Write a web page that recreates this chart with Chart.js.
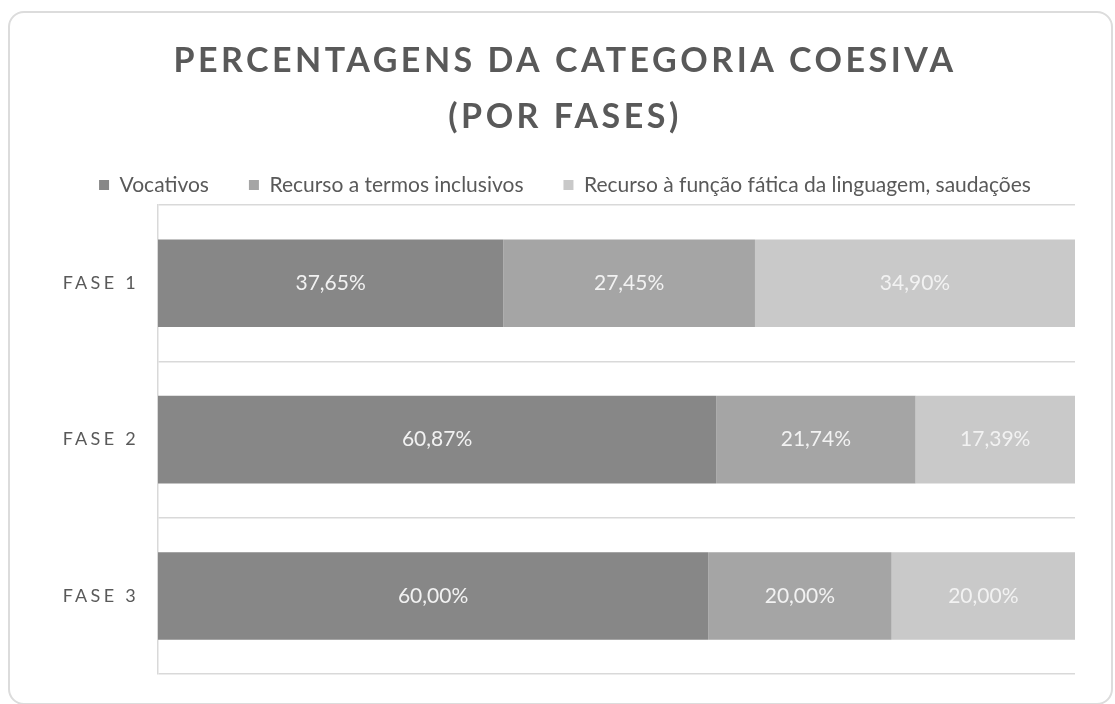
<!DOCTYPE html>
<html>
<head>
<meta charset="utf-8">
<script src="https://cdn.jsdelivr.net/npm/chart.js@4.4.0/dist/chart.umd.min.js"></script>
<style>
    html, body { margin: 0; padding: 0; background: #fff; overflow: hidden; }
    #moldura { position: absolute; left: 8px; top: 11px; width: 1101px; height: 690px; border: 2px solid #dcdcdc; border-radius: 16px; }
    #caixa { position: absolute; left: 0; top: 0; width: 1115px; height: 704px; }
</style>
</head>
<body>
<div id="moldura"></div>
<div id="caixa"><canvas id="graficoFases"></canvas></div>
<script>
const fases = ['FASE 1', 'FASE 2', 'FASE 3'];
const vocativos = [37.65, 60.87, 60.00];
const termosInclusivos = [27.45, 21.74, 20.00];
const funcaoFatica = [34.90, 17.39, 20.00];
const nomesSeries = ['Vocativos', 'Recurso a termos inclusivos', 'Recurso à função fática da linguagem, saudações'];
const titulo = ['PERCENTAGENS DA CATEGORIA COESIVA', '(POR FASES)'];

// espaçamento entre letras do título e das fases
function comEspaco(obj, metodo, valor) {
    if (!obj || obj['_esp_' + metodo]) return;
    const orig = obj[metodo];
    obj[metodo] = function() {
        this.ctx.save();
        this.ctx.letterSpacing = valor;
        orig.apply(this, arguments);
        this.ctx.restore();
    };
    obj['_esp_' + metodo] = true;
}

const espacamento = {
    id: 'espacamento',
    beforeDraw(chart) {
        comEspaco(chart.titleBlock, 'draw', '3.5px');
        comEspaco(chart.scales.y, 'drawLabels', '3.3px');
    }
};

// rótulos de percentagem dentro das barras
const rotulos = {
    id: 'rotulos',
    afterDatasetsDraw(chart) {
        const ctx = chart.ctx;
        ctx.save();
        ctx.font = '21px Lato';
        ctx.fillStyle = '#f2f2f2';
        ctx.textAlign = 'center';
        ctx.textBaseline = 'middle';
        chart.data.datasets.forEach(function(ds, i) {
            chart.getDatasetMeta(i).data.forEach(function(barra, j) {
                const p = barra.getCenterPoint();
                ctx.fillText(ds.data[j].toFixed(2).replace('.', ',') + '%', p.x, p.y);
            });
        });
        ctx.restore();
    }
};

const ctx = document.getElementById('graficoFases').getContext('2d');

new Chart(ctx, {
    type: 'bar',
    data: {
        labels: fases,
        datasets: [
            { label: nomesSeries[0], data: vocativos, backgroundColor: '#878787', borderWidth: 0 },
            { label: nomesSeries[1], data: termosInclusivos, backgroundColor: '#a5a5a5', borderWidth: 0 },
            { label: nomesSeries[2], data: funcaoFatica, backgroundColor: '#c9c9c9', borderWidth: 0 }
        ]
    },
    options: {
        indexAxis: 'y',
        responsive: true,
        maintainAspectRatio: false,
        animation: false,
        datasets: {
            bar: { barPercentage: 1, categoryPercentage: 0.56 }
        },
        layout: {
            padding: { left: 55, right: 40, top: 0, bottom: 29 }
        },
        plugins: {
            tooltip: { enabled: false },
            title: {
                display: true,
                text: titulo,
                color: '#595959',
                font: { family: 'Lato', size: 34, weight: 'bold', lineHeight: 56 / 34 },
                padding: { top: 33, bottom: -10.5 }
            },
            legend: {
                position: 'top',
                maxHeight: 70.5,
                labels: {
                    boxWidth: 10,
                    boxHeight: 10,
                    padding: 40,
                    color: '#595959',
                    font: { family: 'Lato', size: 21 }
                }
            }
        },
        scales: {
            x: {
                display: false,
                stacked: true,
                min: 0,
                max: 100
            },
            y: {
                stacked: true,
                afterFit: function(s) { s.width = 103; },
                grid: { color: '#d9d9d9', lineWidth: 1.5, drawTicks: false, offset: true },
                border: { color: '#d9d9d9', width: 1.5 },
                ticks: {
                    color: '#595959',
                    padding: 19,
                    font: { family: 'Lato', size: 18 }
                }
            }
        }
    },
    plugins: [espacamento, rotulos]
});
</script>
</body>
</html>
